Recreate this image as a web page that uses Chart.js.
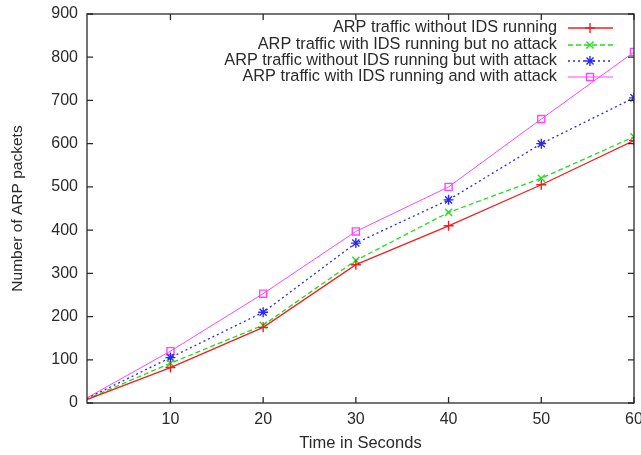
<!DOCTYPE html>
<html>
<head>
<meta charset="utf-8">
<script src="https://cdn.jsdelivr.net/npm/chart.js@4"></script>
<style>
  html, body { margin: 0; padding: 0; background: #fff; }
  #wrap { width: 641px; height: 455px; }
</style>
</head>
<body>
<div id="wrap"><canvas id="c" width="641" height="455"></canvas></div>
<script>
// time in seconds (the 0 point sits just left of the plotted range, so lines come in clipped)
const seconds = [0, 10, 20, 30, 40, 50, 60];
const xTicks = [10, 20, 30, 40, 50, 60];

const noIds = [0, 82, 175, 320, 410, 505, 607];
const idsNoAttack = [0, 92, 180, 330, 441, 520, 616];
const noIdsAttack = [0, 105, 210, 370, 470, 600, 706];
const idsAttack = [0, 120, 253, 397, 500, 657, 812];

const seriesNames = [
  "ARP traffic without IDS running",
  "ARP traffic with IDS running but no attack",
  "ARP traffic without IDS running but with attack",
  "ARP traffic with IDS running and with attack"
];

const FONT = "'Liberation Sans', Arial, sans-serif";
const INK = "#2a2a2a";

function pts(vals) {
  return vals.map((v, i) => ({ x: seconds[i], y: v }));
}

const styles = [
  { color: "#f02020", dash: [], point: "cross", w: 1.3 },
  { color: "#22dd22", dash: [5, 3], point: "crossRot", w: 1.3 },
  { color: "#2a2af0", dash: [2, 3], point: "star", w: 1.3 },
  { color: "#ff44ff", dash: [], point: "rect", w: 1 }
];
const allData = [noIds, idsNoAttack, noIdsAttack, idsAttack];

const datasets = allData.map((vals, i) => ({
  label: seriesNames[i],
  data: pts(vals),
  borderColor: styles[i].color,
  backgroundColor: "rgba(0,0,0,0)",
  borderWidth: styles[i].w,
  borderDash: styles[i].dash,
  pointStyle: styles[i].point,
  pointRadius: 5,
  pointBorderWidth: 1.4,
  pointBorderColor: styles[i].color,
  pointBackgroundColor: "rgba(0,0,0,0)",
  tension: 0
}));

// inward ticks on all four sides + gnuplot-style key
const frame = {
  id: "frame",
  afterDraw(chart) {
    const { ctx, chartArea: a, scales } = chart;
    ctx.save();
    ctx.strokeStyle = INK;
    ctx.lineWidth = 1.3;
    ctx.setLineDash([]);
    ctx.strokeRect(a.left, a.top, a.right - a.left, a.bottom - a.top);
    const len = 6;
    ctx.beginPath();
    scales.x.ticks.forEach(t => {
      const px = scales.x.getPixelForValue(t.value);
      ctx.moveTo(px, a.bottom); ctx.lineTo(px, a.bottom - len);
      ctx.moveTo(px, a.top); ctx.lineTo(px, a.top + len);
    });
    scales.y.ticks.forEach(t => {
      const py = scales.y.getPixelForValue(t.value);
      ctx.moveTo(a.left, py); ctx.lineTo(a.left + len, py);
      ctx.moveTo(a.right, py); ctx.lineTo(a.right - len, py);
    });
    ctx.stroke();

    // key
    const textRight = 557, lx0 = 568, lx1 = 613, mx = 590;
    const rows = [28, 45, 61, 77];
    ctx.font = "16.3px " + FONT;
    ctx.textAlign = "right";
    ctx.textBaseline = "middle";
    chart.data.datasets.forEach((ds, i) => {
      const y = rows[i];
      ctx.fillStyle = INK;
      ctx.fillText(ds.label, textRight, y);
      ctx.strokeStyle = ds.borderColor;
      ctx.lineWidth = ds.borderWidth;
      ctx.setLineDash(ds.borderDash);
      ctx.beginPath();
      ctx.moveTo(lx0, y); ctx.lineTo(lx1, y);
      ctx.stroke();
      ctx.setLineDash([]);
      ctx.lineWidth = ds.pointBorderWidth;
      ctx.fillStyle = "rgba(0,0,0,0)";
      Chart.helpers.drawPoint(ctx, { pointStyle: ds.pointStyle, radius: 5, borderWidth: ds.pointBorderWidth, rotation: 0 }, mx, y);
    });
    ctx.restore();
  }
};

new Chart(document.getElementById("c"), {
  type: "line",
  data: { datasets },
  options: {
    responsive: false,
    animation: false,
    devicePixelRatio: 1,
    layout: { padding: { left: 0, right: 7, top: 14, bottom: 0 } },
    plugins: { legend: { display: false }, tooltip: { enabled: false } },
    scales: {
      x: {
        type: "linear",
        min: 1,
        max: 60,
        afterBuildTicks(s) { s.ticks = xTicks.map(v => ({ value: v })); },
        afterFit(s) { s.height = 52; s.paddingLeft = 0; s.paddingRight = 0; },
        grid: { display: false, drawTicks: false },
        border: { display: false },
        ticks: { color: INK, font: { family: FONT, size: 16 }, padding: 7, maxRotation: 0 },
        title: { display: true, text: "Time in Seconds", color: INK, font: { family: FONT, size: 16.5 }, padding: { top: 4, bottom: 2 } }
      },
      y: {
        min: 0,
        max: 900,
        afterFit(s) { s.width = 87; s.paddingTop = 0; s.paddingBottom = 0; },
        grid: { display: false, drawTicks: false },
        border: { display: false },
        ticks: { stepSize: 100, color: INK, font: { family: FONT, size: 16 }, padding: 9 },
        title: { display: true, text: "Number of ARP packets", color: INK, font: { family: FONT, size: 15.5 }, padding: { top: 8, bottom: 4 } }
      }
    }
  },
  plugins: [frame]
});
</script>
</body>
</html>
